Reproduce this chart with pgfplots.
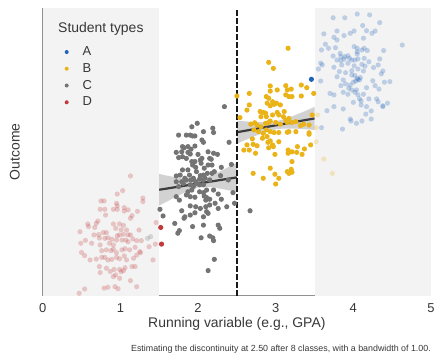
\documentclass[border=0pt]{standalone}
\usepackage{fontspec}
\setmainfont{Liberation Sans}
\usepackage{pgfplots}
\pgfplotsset{compat=1.18}

\definecolor{Acol}{RGB}{31,98,186}
\definecolor{Bcol}{RGB}{234,179,24}
\definecolor{Ccol}{RGB}{116,116,116}
\definecolor{Dcol}{RGB}{192,57,59}
\definecolor{outband}{RGB}{243,243,243}
\definecolor{spine}{RGB}{145,145,145}
\definecolor{labelgray}{RGB}{55,55,55}
\definecolor{fitline}{RGB}{60,60,60}

\begin{document}
\begin{tikzpicture}
\begin{axis}[
  name=ax,
  scale only axis, width=388.3bp, height=287.6bp,
  xmin=0, xmax=5, ymin=0, ymax=10,
  axis x line*=bottom, axis y line*=left,
  axis line style={draw=spine, line width=1.2bp, -},
  xtick={0,1,2,3,4,5}, xticklabels={0,1,2,3,4,5},
  ytick=\empty,
  major tick length=0pt, tick style={draw=none},
  xticklabel style={inner sep=0pt, anchor=north, yshift=-7.7bp,
    font=\fontsize{13}{15}\selectfont, text=labelgray},
  xlabel={Running variable (e.g., GPA)},
  ylabel={Outcome},
  every axis x label/.style={at={(axis description cs:0.5,-0.0737)}, anchor=north,
    inner sep=0pt, font=\fontsize{14}{16}\selectfont, text=labelgray},
  every axis y label/.style={at={(axis description cs:-0.0585,0.5)}, rotate=90, anchor=south,
    inner sep=0pt, font=\fontsize{14}{16}\selectfont, text=labelgray},
  legend cell align=left,
  legend image code/.code={%
    \path[draw=none, fill=none] (-3bp,0bp) -- (16bp,0bp);
    \draw[#1, only marks] plot coordinates {(0bp,0bp)};},
  legend style={at={(rel axis cs:0.0541,0.865)}, anchor=north west, draw=none, fill=none,
    inner sep=0pt, outer sep=0pt, row sep=6.3bp, column sep=0pt,
    nodes={inner sep=0pt}, font=\fontsize{13}{15}\selectfont, text=labelgray},
  dots/.style 2 args={only marks, mark=*, mark size=2.6bp, color=#1,
    mark options={fill=#1, fill opacity=#2, draw opacity=0}},
]

% regions outside the bandwidth
\addplot[fill=outband, draw=none, forget plot] coordinates {(0,0) (1.5,0) (1.5,10) (0,10)} -- cycle;
\addplot[fill=outband, draw=none, forget plot] coordinates {(3.5,0) (5,0) (5,10) (3.5,10)} -- cycle;

% students outside the bandwidth (faded)
\addplot[dots={Dcol}{0.25}, forget plot] coordinates {
(1.13,4.16) (0.96,3.53) (1.03,3.65) (0.75,3.29) (0.79,3.29) (0.95,3.21) (0.96,3.12) (1.29,3.39)
(1.29,3.27) (0.74,3.00) (0.80,3.00) (0.91,3.00) (0.96,3.00) (1.05,3.06) (1.05,2.94) (1.10,2.98)
(1.22,2.93) (0.81,2.80) (0.71,2.59) (0.69,2.51) (0.58,2.49) (0.59,2.40) (0.67,2.37) (0.99,2.49)
(1.04,2.44) (1.13,2.69) (1.15,2.78) (0.91,2.49) (0.94,2.34) (1.01,2.29) (1.08,2.28) (1.24,2.28)
(0.48,2.22) (0.66,2.11) (0.72,2.12) (0.78,2.19) (0.82,2.19) (0.84,2.01) (0.89,1.96) (0.96,2.08)
(0.99,2.11) (1.04,2.13) (1.10,2.11) (1.13,2.11) (0.80,1.99) (0.73,2.00) (0.55,1.92) (0.49,1.82)
(0.63,1.82) (0.74,1.76) (0.86,1.82) (0.91,1.76) (0.95,1.93) (1.02,1.93) (1.07,1.93) (1.10,1.87)
(1.16,1.97) (1.21,1.91) (1.27,1.91) (1.37,1.70) (1.45,1.79) (0.50,1.50) (0.54,1.39) (0.76,1.56)
(0.82,1.59) (0.88,1.56) (0.91,1.61) (0.95,1.49) (1.02,1.59) (1.06,1.63) (1.12,1.59) (1.19,1.68)
(1.26,1.49) (1.21,1.41) (1.25,1.53) (0.61,1.24) (0.69,1.27) (0.76,1.33) (0.80,1.33) (0.84,1.24)
(0.89,1.26) (0.95,1.33) (0.99,1.28) (1.05,1.38) (1.08,1.24) (1.17,1.30) (1.42,1.24) (0.73,1.01)
(0.82,0.95) (0.92,0.91) (0.99,0.91) (1.06,0.97) (1.15,1.01) (1.19,1.01) (0.87,0.84) (0.94,0.72)
(1.01,0.83) (1.04,0.87) (0.74,0.80) (0.99,0.60) (0.91,0.66) (1.13,0.52) (1.21,0.31) (0.79,0.26)
(0.84,0.29) (0.93,0.31) (0.97,0.24) (0.54,0.23) (0.47,0.08) (1.46,2.54)
};
\addplot[dots={Ccol}{0.25}, forget plot] coordinates {
(1.35,1.99) (1.39,2.05)
};
\addplot[dots={Bcol}{0.25}, forget plot] coordinates {
(3.54,6.28) (3.52,5.84) (3.52,5.35) (3.62,4.75) (3.73,4.25)
};
\addplot[dots={Acol}{0.25}, forget plot] coordinates {
(3.74,9.66) (3.89,9.66) (4.05,9.79) (4.21,9.76) (4.34,9.49) (3.62,9.10) (3.79,9.20) (3.96,9.12)
(4.01,9.20) (4.12,9.39) (4.17,9.21) (4.24,9.12) (4.28,9.20) (3.75,8.98) (3.79,8.89) (3.88,9.04)
(4.13,8.95) (3.64,8.74) (3.68,8.60) (3.77,8.62) (3.59,8.54) (4.01,8.66) (4.05,8.60) (4.11,8.54)
(4.14,8.60) (4.18,8.52) (4.05,8.48) (4.05,8.40) (4.39,8.52) (4.63,8.71) (3.74,8.33) (3.83,8.42)
(3.84,8.31) (3.89,8.31) (3.93,8.34) (3.95,8.25) (3.79,8.19) (3.84,8.17) (3.88,8.22) (3.98,8.19)
(4.02,8.19) (4.06,8.23) (4.14,8.25) (4.20,8.13) (4.34,8.23) (3.58,8.08) (3.60,8.02) (3.55,7.88)
(3.75,7.94) (3.85,8.02) (3.93,8.08) (4.01,7.99) (4.11,8.04) (4.15,7.98) (4.26,7.93) (4.32,8.02)
(4.38,7.81) (3.82,7.79) (3.90,7.75) (3.98,7.82) (4.06,7.88) (4.13,7.81) (3.79,7.61) (3.87,7.50)
(3.98,7.67) (4.02,7.65) (4.05,7.55) (4.08,7.50) (4.09,7.58) (4.25,7.47) (4.36,7.71) (4.40,7.42)
(4.47,7.44) (3.58,7.46) (3.84,7.30) (3.90,7.36) (3.96,7.32) (4.00,7.42) (4.03,7.46) (4.06,7.51)
(4.17,7.23) (4.28,7.30) (4.33,7.18) (3.94,7.21) (3.98,7.15) (4.02,7.07) (4.04,7.15) (3.70,7.03)
(3.75,6.98) (3.87,7.07) (3.93,7.00) (4.06,6.98) (4.13,7.00) (4.00,6.72) (4.08,6.84) (4.10,6.77)
(4.20,6.84) (4.30,6.84) (4.32,6.74) (4.38,6.60) (4.44,6.69) (3.75,6.57) (3.87,6.49) (3.66,6.43)
(4.10,6.63) (4.17,6.57) (4.23,6.42) (4.16,6.31) (4.23,6.14) (3.96,6.14) (3.97,6.07) (4.04,5.99)
(4.11,6.07) (3.59,5.84) (3.86,5.79) (4.38,6.57)
};

% students inside the bandwidth
\addplot[dots={Dcol}{1}, forget plot] coordinates {
(1.52,2.37) (1.53,1.79)
};
\addplot[dots={Ccol}{1}, forget plot] coordinates {
(1.99,5.99) (1.92,5.87) (2.19,5.82) (2.20,5.67) (2.07,5.70) (2.05,5.41) (2.07,5.33) (1.75,5.58)
(1.85,5.58) (1.90,5.58) (1.93,5.55) (1.96,5.55) (1.87,5.18) (1.80,5.18) (1.82,5.14) (1.96,5.20)
(1.72,4.98) (1.79,5.00) (1.87,4.98) (1.91,5.09) (1.75,4.80) (1.80,4.83) (1.85,4.77) (1.90,4.92)
(2.00,4.91) (2.13,5.00) (2.20,4.95) (2.25,4.91) (2.15,4.77) (2.17,4.74) (1.92,4.66) (1.96,4.66)
(2.03,4.71) (2.05,4.77) (2.04,4.60) (1.93,4.54) (1.97,4.46) (2.08,4.43) (2.13,4.54) (2.18,4.54)
(2.30,4.46) (2.40,5.33) (2.43,4.56) (2.29,4.17) (1.80,4.37) (1.77,4.19) (1.87,4.37) (1.89,4.19)
(1.98,4.31) (2.03,4.17) (2.07,4.19) (2.12,4.25) (2.18,4.25) (2.21,4.31) (1.72,4.16) (1.72,3.96)
(1.79,3.96) (1.83,4.08) (1.85,4.02) (1.91,4.02) (1.94,4.08) (1.97,3.96) (2.02,4.05) (2.06,4.02)
(2.09,4.08) (2.15,4.02) (2.39,4.02) (1.90,3.85) (1.94,3.79) (1.98,3.90) (2.02,3.85) (2.07,3.85)
(1.75,3.79) (1.81,3.90) (2.20,3.67) (2.26,3.53) (2.45,3.58) (2.11,3.67) (1.92,3.67) (1.87,3.61)
(2.02,3.61) (2.07,3.58) (1.72,3.44) (1.76,3.32) (1.85,3.50) (1.90,3.44) (1.96,3.42) (2.08,3.46)
(2.11,3.41) (2.15,3.35) (2.10,3.32) (1.90,3.12) (1.97,3.09) (2.03,3.03) (2.10,3.09) (2.15,3.15)
(2.22,3.21) (2.30,3.35) (2.37,3.09) (2.26,3.03) (1.79,2.95) (1.83,2.74) (1.82,2.69) (1.90,2.80)
(1.96,2.88) (2.13,2.86) (2.07,2.74) (2.11,2.92) (1.70,2.51) (1.93,2.40) (2.07,2.45) (2.26,2.45)
(2.28,2.34) (1.76,2.26) (1.74,2.17) (2.04,2.01) (2.15,2.07) (2.19,2.01) (2.20,1.91) (2.21,1.26)
(2.13,0.87) (1.51,3.00) (1.55,2.77) (2.34,6.57) (2.47,3.21) (2.67,2.95)
};
\addplot[dots={Bcol}{1}, forget plot] coordinates {
(3.16,8.60) (2.91,8.11) (2.97,7.90) (2.50,6.94) (2.66,7.03) (2.63,6.45) (2.66,6.63) (2.54,6.19)
(2.93,7.29) (3.02,7.15) (2.93,7.11) (2.88,6.92) (2.91,6.86) (2.89,6.69) (2.93,6.60) (2.96,6.74)
(2.98,6.65) (3.01,6.69) (3.06,6.63) (3.13,7.30) (3.15,7.15) (3.20,7.18) (3.13,6.98) (3.17,6.92)
(3.21,6.92) (3.33,7.32) (3.40,7.23) (3.33,6.94) (3.49,7.03) (2.80,6.40) (2.84,6.37) (2.87,6.34)
(2.81,6.22) (2.88,6.22) (2.96,6.28) (3.02,6.37) (3.04,6.28) (3.11,6.40) (3.10,6.22) (3.13,6.11)
(3.17,6.16) (2.68,5.96) (2.73,6.01) (2.76,5.93) (2.81,5.87) (2.87,5.99) (2.91,6.02) (2.93,6.07)
(3.00,6.02) (3.06,5.96) (3.15,6.02) (3.21,6.02) (3.26,6.05) (3.32,5.91) (3.36,5.96) (3.43,5.93)
(3.47,6.28) (2.72,5.76) (2.78,5.70) (2.84,5.64) (2.88,5.76) (2.93,5.70) (2.98,5.67) (3.04,5.67)
(3.15,5.68) (3.17,5.70) (3.26,5.70) (3.43,5.61) (3.43,5.66) (2.89,5.53) (2.93,5.38) (2.90,5.33)
(2.96,5.24) (2.83,5.47) (2.70,5.45) (2.71,5.26) (2.63,5.24) (2.76,5.21) (2.66,5.06) (2.59,5.06)
(2.74,4.95) (2.91,5.14) (2.97,5.18) (3.04,5.35) (3.16,5.06) (3.21,5.00) (3.27,4.98) (3.16,4.95)
(3.28,5.18) (3.37,5.10) (3.34,4.91) (3.45,5.24) (2.99,4.91) (3.21,4.66) (2.93,4.43) (2.71,4.25)
(2.84,4.08) (2.99,4.22) (3.04,4.08) (3.15,4.31) (3.20,4.39) (3.21,4.29) (3.17,4.25) (3.00,3.88)
};
\addplot[dots={Acol}{1}, forget plot] coordinates {
(3.46,7.52)
};

% local linear fits with confidence bands
\addplot[fill=fitline, fill opacity=0.23, draw=none, forget plot] coordinates {
(1.5,3.13) (1.6,3.27) (1.7,3.41) (1.8,3.55) (1.9,3.67) (2.0,3.76) (2.1,3.78) (2.2,3.76)
(2.3,3.71) (2.4,3.66) (2.5,3.60) (2.5,4.62) (2.4,4.48) (2.3,4.34) (2.2,4.21) (2.1,4.09)
(2.0,4.03) (1.9,4.03) (1.8,4.07) (1.7,4.12) (1.6,4.17) (1.5,4.23)
} -- cycle;
\addplot[fill=fitline, fill opacity=0.23, draw=none, forget plot] coordinates {
(2.5,5.28) (2.6,5.40) (2.7,5.51) (2.8,5.62) (2.9,5.71) (3.0,5.78) (3.1,5.81) (3.2,5.81)
(3.3,5.80) (3.4,5.78) (3.5,5.76) (3.5,6.56) (3.4,6.44) (3.3,6.33) (3.2,6.22) (3.1,6.13)
(3.0,6.06) (2.9,6.03) (2.8,6.03) (2.7,6.04) (2.6,6.06) (2.5,6.08)
} -- cycle;
\addplot[fitline, line width=2.2bp, forget plot] coordinates {(1.5,3.68) (2.5,4.11)};
\addplot[fitline, line width=2.2bp, forget plot] coordinates {(2.5,5.68) (3.5,6.16)};

% cutoff
\addplot[black!90, line width=1.3bp, dash pattern=on 5.5bp off 2.5bp, forget plot] coordinates {(2.5,0) (2.5,10)};

\addlegendimage{only marks, mark=*, mark size=2bp, color=Acol, mark options={fill=Acol, draw opacity=0}}
\addlegendentry{A}
\addlegendimage{only marks, mark=*, mark size=2bp, color=Bcol, mark options={fill=Bcol, draw opacity=0}}
\addlegendentry{B}
\addlegendimage{only marks, mark=*, mark size=2bp, color=Ccol, mark options={fill=Ccol, draw opacity=0}}
\addlegendentry{C}
\addlegendimage{only marks, mark=*, mark size=2bp, color=Dcol, mark options={fill=Dcol, draw opacity=0}}
\addlegendentry{D}
\end{axis}

\node[anchor=base west, inner sep=0pt, font=\fontsize{14}{16}\selectfont, text=labelgray]
  at ([xshift=15.3bp, yshift=-24.5bp]ax.north west) {Student types};
\node[anchor=base east, inner sep=0pt, font=\fontsize{8.9}{10.7}\selectfont, text=labelgray]
  at ([yshift=-55.4bp]ax.south east) {Estimating the discontinuity at 2.50 after 8 classes, with a bandwidth of 1.00.};

\pgfresetboundingbox
\path[use as bounding box] ([xshift=-42.7bp, yshift=-66.4bp]ax.south west) rectangle ([xshift=3bp, yshift=8bp]ax.north east);
\end{tikzpicture}
\end{document}
